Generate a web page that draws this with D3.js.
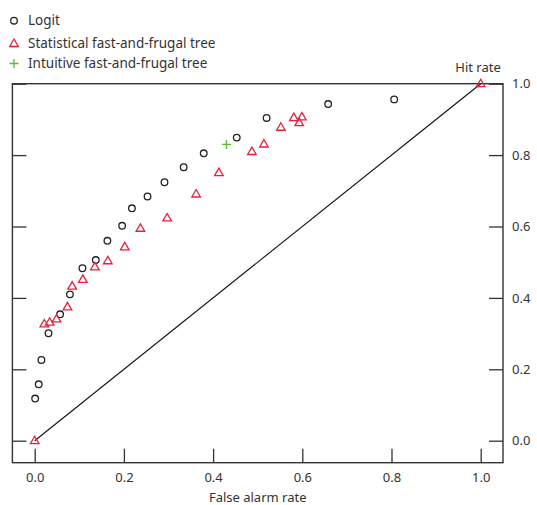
<!DOCTYPE html>
<html><head><meta charset="utf-8">
<script src="https://cdn.jsdelivr.net/npm/d3@7"></script>
<style>
body{margin:0;background:#fff;}
svg{display:block;font-family:"Noto Sans",sans-serif;}
</style></head>
<body><svg id="c" width="537" height="505"></svg>
<script>
const logitFA  = [0.001,0.009,0.015,0.031,0.057,0.079,0.107,0.137,0.163,0.196,0.218,0.253,0.291,0.334,0.379,0.453,0.520,0.658,0.806];
const logitHit = [0.118,0.158,0.226,0.301,0.354,0.410,0.483,0.506,0.560,0.602,0.651,0.684,0.724,0.766,0.805,0.849,0.904,0.943,0.956];
const sftFA  = [0.0,0.0215,0.0336,0.049,0.0735,0.084,0.108,0.135,0.164,0.202,0.237,0.297,0.362,0.413,0.487,0.514,0.552,0.581,0.599,0.593,1.0];
const sftHit = [0.0,0.327,0.332,0.341,0.375,0.433,0.452,0.487,0.504,0.543,0.595,0.624,0.691,0.751,0.810,0.831,0.878,0.905,0.907,0.891,1.0];
const iftFA  = [0.43];
const iftHit = [0.83];
const ticks = [0,0.2,0.4,0.6,0.8,1.0];
const legendLabels = ["Logit","Statistical fast-and-frugal tree","Intuitive fast-and-frugal tree"];
const xLabel = "False alarm rate", yLabel = "Hit rate";

const svg = d3.select("#c");
const x = d3.scaleLinear().domain([0,1]).range([34.7,480.7]);
const y = d3.scaleLinear().domain([0,1]).range([440.7,83.7]);
const L = x(-0.05), R = x(1.05), T = y(1), B = y(-0.0616);
const txt = "#333", red = "#e8213b", green = "#5cb83c";

// diagonal
svg.append("line").attr("x1",x(0)).attr("y1",y(0)).attr("x2",x(1)).attr("y2",y(1))
  .attr("stroke","#111").attr("stroke-width",1.1);

// axes
const fs = "13px";
const ax = svg.append("g").attr("transform",`translate(0,${B})`)
  .call(d3.axisTop(x).tickValues(ticks).tickFormat(d3.format(".1f")).tickSize(14));
ax.select(".domain").remove();
ax.selectAll("line").attr("stroke","#333").attr("stroke-width",1.3);
ax.selectAll("text").attr("y",15).attr("dy","0.35em").attr("fill",txt).style("font-size",fs).style("font-family","Noto Sans");

const ayl = svg.append("g").attr("transform",`translate(${L},0)`)
  .call(d3.axisRight(y).tickValues(ticks).tickFormat("").tickSize(14));
ayl.select(".domain").remove();
ayl.selectAll("line").attr("stroke","#333").attr("stroke-width",1.3);

const ayr = svg.append("g").attr("transform",`translate(${R},0)`)
  .call(d3.axisLeft(y).tickValues(ticks).tickFormat(d3.format(".1f")).tickSize(14));
ayr.select(".domain").remove();
ayr.selectAll("line").attr("stroke","#333").attr("stroke-width",1.3);
ayr.selectAll("text").attr("x",9).attr("text-anchor","start").attr("fill",txt).style("font-size",fs).style("font-family","Noto Sans");

// frame
svg.append("rect").attr("x",L).attr("y",T).attr("width",R-L).attr("height",B-T)
  .attr("fill","none").attr("stroke","#333").attr("stroke-width",1.4);

svg.append("text").attr("x",(L+R)/2 + 0).attr("y",497).attr("dy","0.35em").attr("text-anchor","middle")
  .attr("fill",txt).style("font-size",fs).text(xLabel);
svg.append("text").attr("x",478).attr("y",T-16).attr("dy","0.35em").attr("text-anchor","middle")
  .attr("fill",txt).style("font-size",fs).text(yLabel);

// markers
const tri = (cx,cy,s) => { const h=s*0.866; return `M${cx},${cy-h*0.6}L${cx+s/2},${cy+h*0.4}L${cx-s/2},${cy+h*0.4}Z`; };
function drawCircle(g,cx,cy){ g.append("circle").attr("cx",cx).attr("cy",cy).attr("r",3.3).attr("fill","none").attr("stroke","#222").attr("stroke-width",1.3); }
function drawTri(g,cx,cy){ g.append("path").attr("d",tri(cx,cy,8.6)).attr("fill","none").attr("stroke",red).attr("stroke-width",1.3); }
function drawPlus(g,cx,cy){ g.append("path").attr("d",`M${cx-4.5},${cy}H${cx+4.5}M${cx},${cy-4.5}V${cy+4.5}`).attr("stroke",green).attr("stroke-width",1.3); }

const pts = svg.append("g");
logitFA.forEach((v,i)=>drawCircle(pts,x(v),y(logitHit[i])));
sftFA.forEach((v,i)=>drawTri(pts,x(v),y(sftHit[i])));
iftFA.forEach((v,i)=>drawPlus(pts,x(v),y(iftHit[i])));

// legend
const lg = svg.append("g");
const ly = [20.7,43.5,63.5];
drawCircle(lg,14,ly[0]); drawTri(lg,14,ly[1]); drawPlus(lg,14,ly[2]);
legendLabels.forEach((t,i)=>lg.append("text").attr("x",28).attr("y",ly[i]).attr("dy","0.35em")
  .attr("fill",txt).style("font-size","13.5px").text(t));
</script></body></html>
